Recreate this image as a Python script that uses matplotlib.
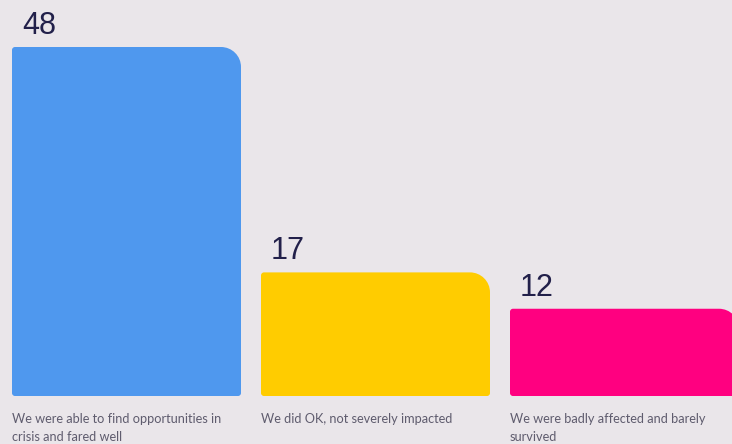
import matplotlib.pyplot as plt
import numpy as np
from matplotlib.path import Path
from matplotlib.patches import PathPatch

categories = ['We were able to find opportunities in\ncrisis and fared well',
              'We did OK, not severely impacted',
              'We were badly affected and barely\nsurvived']
values = [48, 17, 12]
colors = ['#4F98EE', '#FFCC00', '#FF0080']

W, H = 732, 444
fig = plt.figure(figsize=(W / 100, H / 100), dpi=100)
fig.patch.set_facecolor('#EAE6EA')
ax = fig.add_axes([0, 0, 1, 1])
ax.set_facecolor('#EAE6EA')

# pixel layout: bar spacing 249 px, first center at 126.5 px, base at 48 px from bottom
px_x = 249.0
px_y = 349.0 / 48
ax.set_xlim(-126.5 / px_x, (W - 126.5) / px_x)
ax.set_ylim(-48 / px_y, (H - 48) / px_y)
ax.axis('off')

x = np.arange(len(values))
bars = ax.bar(x, values, width=229 / px_x, color='none')


def rounded_bar(x0, y0, w, h, r_big, r_small):
    # corners in data units, top-right with big radius
    rxb, ryb = r_big / px_x, r_big / px_y
    rxs, rys = r_small / px_x, r_small / px_y
    k = 0.5523
    x1, y1 = x0 + w, y0 + h
    verts = [
        (x0 + rxs, y0),
        (x1 - rxs, y0),
        (x1 - rxs + k * rxs, y0), (x1, y0 + rys - k * rys), (x1, y0 + rys),
        (x1, y1 - ryb),
        (x1, y1 - ryb + k * ryb), (x1 - rxb + k * rxb, y1), (x1 - rxb, y1),
        (x0 + rxs, y1),
        (x0 + rxs - k * rxs, y1), (x0, y1 - rys + k * rys), (x0, y1 - rys),
        (x0, y0 + rys),
        (x0, y0 + rys - k * rys), (x0 + rxs - k * rxs, y0), (x0 + rxs, y0),
        (x0 + rxs, y0),
    ]
    codes = [Path.MOVETO, Path.LINETO,
             Path.CURVE4, Path.CURVE4, Path.CURVE4,
             Path.LINETO,
             Path.CURVE4, Path.CURVE4, Path.CURVE4,
             Path.LINETO,
             Path.CURVE4, Path.CURVE4, Path.CURVE4,
             Path.LINETO,
             Path.CURVE4, Path.CURVE4, Path.CURVE4,
             Path.CLOSEPOLY]
    return Path(verts, codes)


for rect, c, v, lab in zip(bars, colors, values, categories):
    rect.set_visible(False)
    x0, w, h = rect.get_x(), rect.get_width(), rect.get_height()
    ax.add_patch(PathPatch(rounded_bar(x0, 0, w, h, 20, 3), facecolor=c, edgecolor='none'))
    ax.text(x0 + 10 / px_x, h + 6 / px_y, str(v), fontsize=22, color='#22204A',
            family='Liberation Sans', ha='left', va='bottom')
    ax.text(x0, -17 / px_y, lab, fontsize=9.2, color='#5F5C6E', family='Lato',
            ha='left', va='top', linespacing=1.6)

fig.savefig('out.png', dpi=100, facecolor=fig.get_facecolor())
